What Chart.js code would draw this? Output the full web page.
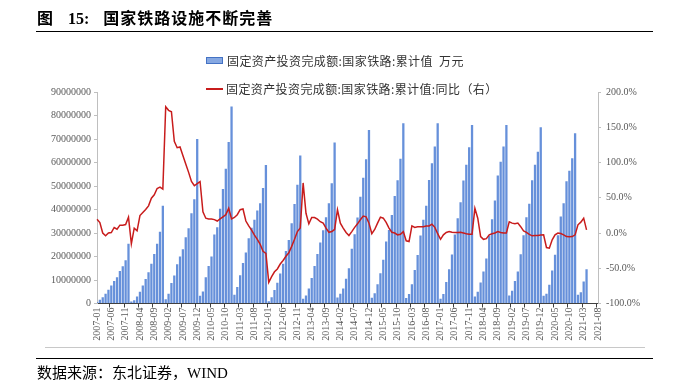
<!DOCTYPE html>
<html>
<head>
<meta charset="utf-8">
<script src="https://cdn.jsdelivr.net/npm/chart.js@4.4.1/dist/chart.umd.min.js"></script>
<style>
  body { margin: 0; background: #fff; }
  #wrap { position: relative; width: 677px; height: 380px; overflow: hidden; }
  #wrap canvas { position: absolute; left: 0; top: 0; }
  .title { position: absolute; left: 37px; top: 5px; font: bold 16px 'Noto Sans CJK SC'; color: #000; white-space: pre; letter-spacing: 1px; }
  .title .num { font-family: 'Liberation Serif'; letter-spacing: 0; }
  .rule { position: absolute; height: 1px; }
  .item { position: absolute; left: 206px; white-space: pre; display: flex; align-items: center;
          font: 12px 'Noto Sans CJK SC'; color: #333; letter-spacing: 0.4px; }
  .sw-bar { width: 15px; height: 5px; background: #86a8e2; border: 1px solid #4472c4; margin-right: 4px; }
  .sw-line { width: 17px; height: 2px; background: #c81c1c; margin-right: 3px; }
  .source { position: absolute; left: 37px; top: 361px; font: 15px 'Noto Sans CJK SC'; color: #000; white-space: pre; }
  .source .num { font-family: 'Liberation Serif'; }
</style>
</head>
<body>
<div id="wrap">
  <canvas id="railChart" width="677" height="380"></canvas>
  <div class="title">图   <span class="num">15:</span>   国家铁路设施不断完善</div>
  <div class="rule" style="left:36px; top:31px; width:617px; background:#000;"></div>
  <div class="item" style="top:52px;"><span class="sw-bar"></span>固定资产投资完成额:国家铁路:累计值  万元</div>
  <div class="item" style="top:80px;"><span class="sw-line"></span>固定资产投资完成额:国家铁路:累计值:同比（右）</div>
  <div class="rule" style="left:45px; top:347px; width:600px; background:#c8c8c8;"></div>
  <div class="rule" style="left:36px; top:358px; width:617px; background:#000;"></div>
  <div class="source">数据来源：东北证券，<span class="num">WIND</span></div>
</div>
<script>
// monthly axis 2007-01 .. 2021-08
const firstYear = 2007;
const lastYear = 2021;
const lastMonth = 8;

// cumulative investment, million 万元 (one row per year)
const investMillion = [
  0.6, 1.6, 2.7, 4.1, 5.8, 7.7, 9.6, 11.2, 13.8, 15.9, 18.4, 25.4,
  0.9, 1.4, 3.0, 5.0, 7.7, 10.4, 13.3, 16.9, 21.1, 25.4, 30.5, 41.6,
  1.8, 4.1, 8.7, 11.9, 16.7, 20.0, 23.1, 28.2, 32.0, 38.4, 44.4, 70.0,
  3.3, 5.1, 11.2, 16.0, 20.0, 29.4, 32.5, 40.3, 48.7, 57.3, 68.7, 83.8,
  3.7, 7.0, 12.0, 17.2, 21.7, 27.8, 32.2, 35.6, 39.6, 42.7, 49.1, 58.9,
  1.0, 2.7, 5.7, 8.8, 12.8, 16.9, 22.3, 27.0, 34.2, 42.3, 50.5, 63.0,
  2.0, 3.4, 6.4, 10.9, 16.0, 21.1, 26.0, 31.2, 36.7, 42.7, 51.2, 68.5,
  2.6, 4.1, 6.4, 10.5, 15.0, 23.3, 29.5, 36.6, 45.4, 53.5, 61.4, 73.8,
  2.4, 4.4, 8.2, 12.9, 18.6, 26.4, 31.3, 37.7, 45.7, 52.5, 61.6, 76.7,
  2.3, 4.0, 8.2, 14.3, 20.6, 28.9, 35.6, 41.6, 52.6, 59.7, 66.8, 76.7,
  2.0, 4.0, 9.2, 14.6, 20.9, 29.4, 36.3, 43.1, 52.3, 59.0, 66.5, 76.0,
  3.0, 5.0, 8.9, 13.6, 19.1, 28.8, 35.9, 43.8, 54.5, 60.3, 66.8, 76.0,
  3.4, 5.4, 9.6, 13.6, 21.0, 29.0, 36.7, 42.5, 52.4, 59.0, 64.6, 75.0,
  3.3, 4.2, 8.0, 14.0, 20.7, 29.0, 37.0, 42.7, 52.0, 56.5, 61.8, 72.5,
  3.7, 4.8, 9.4, 14.6, null, null, null, null
];

// year-on-year, %
const yoyPct = [
  19.6, 14.9, 0, -4, 0, 0.7, 7.8, 5.4, 11.1, 11.1, 12, 22.5,
  -15.4, 6.9, 3.1, 24.8, 29.1, 33.3, 38.5, 49.4, 54.1, 63.1, 65, 62.2,
  179, 174, 172, 130, 121, 122, 110, 98, 86, 73, 67, 70,
  73, 30, 21, 20, 20, 19, 17, 20, 23, 26, 35, 20,
  22, 26, 33, 34, 17, 10, 4, -3, -9, -16, -26, -29,
  -70, -62, -55, -51, -44, -39, -33, -28, -19, -9, 2, 7,
  71, 28, 13, 22, 22, 19.6, 16, 14, 7, 1, 2, 5,
  33, 14, 7, 0.7, -3.5, 2, 8, 13, 18.7, 24, 23, 14,
  -1, 5, 14, 22.5, 21, 15, 7, 1, 0, -2.6, -1.7, 2,
  -11, -12, 10, 8, 9, 9, 9, 10, 10, 12.5, 8, -1,
  -9, -2.6, 0.7, 2, 1, 0.7, 0.7, 1, 0, -1, -1.7, -1.7,
  35, 21, -5, -9, -8, -2.6, -1, 0, 2, 0.7, 0, 0,
  16, 14, 13, 14, 9, 3, 1, -2, -4, -3.5, -3.5, -3,
  -2.6, -20.6, -21.5, -9.7, -2.6, 0, -0.7, -2.6, -5, -5.4, -5, -2.6,
  11.6, 15.4, 21, 4.5, null, null, null, null
];

const months = [];
for (let y = firstYear; y <= lastYear; y++) {
  const end = y === lastYear ? lastMonth : 12;
  for (let m = 1; m <= end; m++) months.push(y + '-' + String(m).padStart(2, '0'));
}

Chart.defaults.font.family = "'Liberation Serif', serif";
Chart.defaults.font.size = 10;
Chart.defaults.color = '#595959';

const invest = investMillion.map(v => v === null ? null : v * 1e6);

new Chart(document.getElementById('railChart'), {
  type: 'bar',
  data: {
    labels: months,
    datasets: [
      {
        type: 'line',
        label: '固定资产投资完成额:国家铁路:累计值:同比（右）',
        data: yoyPct,
        yAxisID: 'y1',
        borderColor: '#c81c1c',
        borderWidth: 1.5,
        pointRadius: 0,
        tension: 0,
        order: 0
      },
      {
        type: 'bar',
        label: '固定资产投资完成额:国家铁路:累计值 万元',
        data: invest,
        yAxisID: 'y',
        backgroundColor: '#6690da',
        borderWidth: 0,
        barPercentage: 0.8,
        categoryPercentage: 1,
        order: 1
      }
    ]
  },
  options: {
    responsive: false,
    animation: false,
    layout: { padding: { top: 92, left: 0, right: 0, bottom: 0 } },
    plugins: { legend: { display: false }, tooltip: { enabled: false } },
    scales: {
      x: {
        offset: false,
        grid: {
          drawOnChartArea: false,
          tickLength: 4,
          tickColor: c => c.index % 5 === 0 ? '#404040' : 'transparent'
        },
        border: { color: '#404040' },
        ticks: {
          autoSkip: false,
          minRotation: 90,
          maxRotation: 90,
          padding: 0,
          callback: (v, i) => i % 5 === 0 ? months[i] : ''
        },
        afterFit: s => { s.height = 76.5; }
      },
      y: {
        position: 'left',
        min: 0,
        max: 90000000,
        ticks: { stepSize: 10000000, padding: 3, callback: v => String(v) },
        grid: { drawOnChartArea: false, tickLength: 3, tickColor: '#bfbfbf' },
        border: { color: '#bfbfbf' },
        afterFit: s => { s.width = 97; }
      },
      y1: {
        position: 'right',
        min: -100,
        max: 200,
        ticks: { stepSize: 50, padding: 5, callback: v => v.toFixed(1) + '%' },
        grid: { drawOnChartArea: false, tickLength: 3, tickColor: '#bfbfbf' },
        border: { color: '#bfbfbf' },
        afterFit: s => { s.width = 79; }
      }
    }
  }
});
</script>
</body>
</html>
